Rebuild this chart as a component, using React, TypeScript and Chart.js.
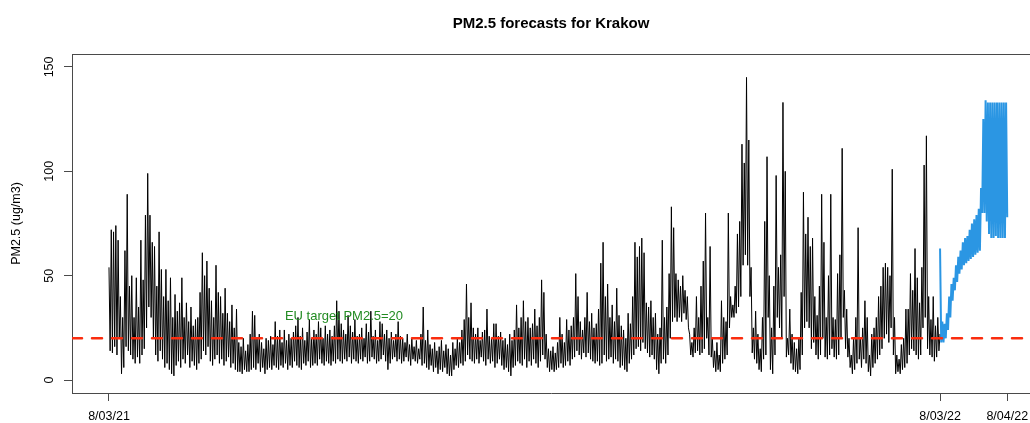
import { useEffect, useRef } from "react";
import { Chart, registerables } from "chart.js";

Chart.register(...registerables);

// ---------------- data ----------------
// Observed PM2.5: daily high and daily low, day 0 = 8/03/21
const observedStartDay = 0;
const observedDailyHigh = [
  54, 72, 71, 74, 67, 40, 30, 62, 89, 45,
  50, 30, 49, 35, 67, 48, 79, 99, 79, 66,
  64, 45, 71, 53, 40, 53, 38, 49, 30, 41,
  33, 37, 49, 30, 37, 28, 35, 26, 29, 30,
  42, 61, 50, 57, 44, 38, 30, 55, 42, 40,
  32, 44, 32, 28, 36, 25, 34, 18, 16, 20,
  14, 17, 22, 33, 31, 20, 22, 18, 15, 20,
  19, 21, 17, 28, 21, 24, 18, 24, 19, 22,
  20, 23, 26, 30, 21, 25, 19, 23, 29, 20,
  24, 22, 28, 25, 20, 26, 22, 24, 21, 26,
  38, 33, 27, 24, 22, 31, 26, 23, 29, 21,
  22, 25, 20, 27, 23, 33, 21, 24, 19, 28,
  27, 22, 24, 20, 23, 19, 22, 28, 21, 20,
  18, 22, 17, 20, 16, 19, 15, 22, 35, 19,
  24, 17, 15, 18, 14, 16, 19, 14, 17, 15,
  12, 18, 15, 20, 18, 24, 29, 46, 30, 37,
  25, 22, 25, 19, 23, 24, 34, 21, 20, 27,
  27, 21, 23, 19, 20, 17, 22, 19, 24, 36,
  25, 30, 38, 28, 30, 25, 27, 34, 26, 30,
  48, 42, 22, 15, 14, 16, 13, 18, 30, 22,
  18, 29, 24, 26, 30, 51, 40, 28, 24, 30,
  42, 28, 32, 25, 27, 34, 56, 66, 40, 46,
  30, 36, 28, 44, 31, 26, 24, 20, 32, 27,
  40, 66, 59, 64, 68, 61, 37, 35, 38, 30,
  32, 22, 25, 67, 30, 35, 51, 83, 73, 51,
  48, 45, 50, 43, 40, 22, 18, 25, 40, 30,
  45, 57, 80, 30, 64, 20, 14, 18, 12, 38,
  30, 28, 80, 40, 36, 45, 70, 76, 113, 104,
  145, 115, 54, 25, 33, 22, 15, 30, 76, 107,
  50, 25, 45, 98, 54, 60, 133, 100, 20, 34,
  22, 18, 15, 20, 42, 90, 70, 78, 64, 68,
  40, 31, 45, 89, 66, 30, 50, 89, 30, 29,
  51, 60, 111, 43, 34, 20, 12, 20, 30, 73,
  20, 25, 38, 30, 12, 22, 25, 30, 40, 45,
  54, 56, 54, 50, 101, 30, 12, 10, 17, 20,
  34, 34, 51, 43, 63, 49, 37, 54, 103, 117,
  40, 29, 40, 26, 30, 22,
];
const observedDailyLow = [
  14, 13, 16, 12, 20, 3, 6, 16, 14, 12,
  10, 8, 11, 8, 12, 15, 25, 35, 30, 20,
  12, 9, 14, 10, 6, 8, 5, 3, 2, 7,
  9, 6, 10, 8, 12, 6, 9, 7, 5, 8,
  10, 14, 12, 16, 9, 7, 10, 12, 8, 10,
  7, 9, 11, 6, 8, 5, 4, 4, 3, 5,
  4, 4, 5, 6, 5, 8, 4, 6, 3, 5,
  6, 5, 7, 6, 5, 7, 6, 8, 5, 7,
  6, 9, 7, 6, 5, 8, 7, 9, 6, 7,
  8, 7, 10, 8, 7, 9, 8, 7, 9, 8,
  10, 9, 8, 10, 9, 11, 8, 10, 9, 8,
  10, 9, 11, 8, 9, 11, 10, 8, 9, 10,
  12, 9, 5, 8, 10, 11, 9, 10, 8, 9,
  11, 9, 7, 10, 9, 8, 10, 7, 8, 6,
  5, 7, 4, 6, 3, 5, 4, 6, 3, 2,
  2, 5, 7, 6, 8, 7, 9, 12, 10, 9,
  8, 10, 8, 11, 9, 7, 10, 8, 9, 6,
  8, 10, 7, 5, 6, 4, 2, 6, 7, 9,
  8, 7, 10, 6, 9, 7, 10, 8, 6, 9,
  12, 10, 6, 4, 5, 4, 5, 6, 8, 6,
  7, 9, 7, 10, 11, 14, 12, 10, 13, 11,
  13, 10, 9, 8, 9, 7, 8, 12, 9, 10,
  11, 8, 10, 9, 6, 7, 5, 4, 8, 10,
  12, 15, 16, 14, 18, 15, 13, 11, 12, 10,
  5, 3, 8, 10, 8, 12, 20, 28, 30, 28,
  30, 28, 32, 29, 25, 12, 11, 13, 14, 12,
  13, 15, 20, 12, 11, 6, 4, 5, 4, 8,
  10, 12, 25, 30, 30, 32, 35, 40, 55, 60,
  55, 40, 13, 10, 8, 5, 4, 10, 12, 30,
  5, 3, 12, 30, 25, 20, 40, 11, 12, 8,
  5, 4, 3, 5, 12, 25, 28, 25, 15, 18,
  12, 10, 12, 20, 11, 10, 12, 15, 11, 10,
  12, 20, 30, 15, 11, 6, 3, 5, 8, 10,
  6, 10, 8, 4, 2, 6, 8, 10, 12, 15,
  20, 22, 18, 25, 12, 3, 4, 3, 5, 6,
  8, 12, 15, 14, 12, 10, 12, 25, 30, 15,
  12, 11, 9, 11, 14, 20,
];

// Forecast PM2.5: daily high and daily low, starting 8/03/22 (day 365)
const forecastStartDay = 365;
const forecastDailyHigh = [
  63, 28, 27, 32, 40, 46, 49, 55, 59, 62,
  66, 68, 69, 72, 75, 77, 79, 82, 92, 125,
  134, 133, 133, 133, 133, 133, 133, 133, 133, 133,
];
const forecastDailyLow = [
  18, 18, 20, 24, 30, 38, 43, 47, 51, 53,
  55, 56, 57, 58, 59, 60, 61, 62, 80, 80,
  76, 70, 68, 68, 69, 68, 68, 68, 68, 78,
];

const targetPM25 = 20;
const targetLabel = "EU target PM2.5=20";
const targetLabelDay = 103.2;
const targetLabelValue = 30.7;

const xTickDays = [0, 365, 394.5];
const xTickLabels = ["8/03/21", "8/03/22", "8/04/22"];
const yTickValues = [0, 50, 100, 150];

const titleText = "PM2.5 forecasts for Krakow";
const yTitleText = "PM2.5 (ug/m3)";

// axis ranges
const xMin = -16.25;
const xMax = 404.5;
const yMin = -6.2;
const yMax = 156.2;

// ---------------- styles ----------------
const FONT = '"Liberation Sans", Arial, Helvetica, sans-serif';
const AXIS_COLOR = "#4a4a4a";
const OBS_COLOR = "#000000";
const FC_COLOR = "#2b96e3";
const TARGET_COLOR = "#fa2d0f";
const LABEL_COLOR = "#228B22";

function highLowSeries(start: number, highs: number[], lows: number[]) {
  const pts: { x: number; y: number }[] = [];
  highs.forEach((h, i) => {
    pts.push({ x: start + i, y: h });
    pts.push({ x: start + i + 0.5, y: lows[i] });
  });
  return pts;
}

export default function App() {
  const canvasRef = useRef<HTMLCanvasElement | null>(null);

  useEffect(() => {
    const canvas = canvasRef.current;
    if (!canvas) return;

    const observed = highLowSeries(observedStartDay, observedDailyHigh, observedDailyLow);
    const forecast = highLowSeries(forecastStartDay, forecastDailyHigh, forecastDailyLow);
    const target = [
      { x: xMin, y: targetPM25 },
      { x: xMax, y: targetPM25 },
    ];

    const boxAndLabel = {
      id: "boxAndLabel",
      afterDatasetsDraw(chart: any) {
        const { ctx, chartArea, scales } = chart;
        ctx.save();
        ctx.strokeStyle = AXIS_COLOR;
        ctx.lineWidth = 1;
        const ty = Math.round(chartArea.top) + 0.5;
        ctx.beginPath();
        ctx.moveTo(chartArea.left, ty);
        ctx.lineTo(chartArea.right, ty);
        ctx.stroke();
        ctx.fillStyle = LABEL_COLOR;
        ctx.font = `13px ${FONT}`;
        ctx.textAlign = "center";
        ctx.textBaseline = "middle";
        ctx.fillText(
          targetLabel,
          scales.x.getPixelForValue(targetLabelDay),
          scales.y.getPixelForValue(targetLabelValue)
        );
        ctx.restore();
      },
    };

    const chart = new Chart(canvas, {
      type: "line",
      data: {
        datasets: [
          {
            data: target,
            borderColor: TARGET_COLOR,
            borderWidth: 2.5,
            borderDash: [10, 10],
            borderCapStyle: "round",
            pointRadius: 0,
            order: 0,
          },
          {
            data: forecast,
            borderColor: FC_COLOR,
            borderWidth: 2,
            pointRadius: 0,
            tension: 0,
            order: 1,
          },
          {
            data: observed,
            borderColor: OBS_COLOR,
            borderWidth: 1,
            pointRadius: 0,
            tension: 0,
            order: 2,
          },
        ],
      },
      options: {
        animation: false,
        responsive: false,
        devicePixelRatio: 1,
        layout: { padding: 0 },
        plugins: {
          legend: { display: false },
          tooltip: { enabled: false },
          title: {
            display: true,
            text: titleText,
            fullSize: false,
            color: "#000",
            font: { family: FONT, size: 15, weight: "bold" },
            padding: { top: 15, bottom: 21 },
          },
        },
        scales: {
          x: {
            type: "linear",
            min: xMin,
            max: xMax,
            afterBuildTicks: (scale: any) => {
              scale.ticks = xTickDays.map((v) => ({ value: v }));
            },
            afterFit: (scale: any) => {
              scale.height = 30;
              scale.paddingLeft = 0;
              scale.paddingRight = 0;
            },
            ticks: {
              autoSkip: false,
              maxRotation: 0,
              minRotation: 0,
              padding: 8.5,
              color: "#000",
              font: { family: FONT, size: 12.5 },
              callback: (value: any) => {
                const i = xTickDays.indexOf(Number(value));
                return i >= 0 ? xTickLabels[i] : "";
              },
            },
            grid: {
              drawOnChartArea: false,
              drawTicks: true,
              tickLength: 8,
              tickColor: AXIS_COLOR,
            },
            border: { display: true, color: AXIS_COLOR, width: 1 },
          },
          y: {
            type: "linear",
            min: yMin,
            max: yMax,
            afterBuildTicks: (scale: any) => {
              scale.ticks = yTickValues.map((v) => ({ value: v }));
            },
            afterFit: (scale: any) => {
              scale.width = 72;
              scale.paddingTop = 0;
              scale.paddingBottom = 0;
            },
            ticks: {
              autoSkip: false,
              minRotation: 90,
              maxRotation: 90,
              crossAlign: "center",
              padding: 4.5,
              color: "#000",
              font: { family: FONT, size: 12.5 },
              callback: (value: any) => String(value),
            },
            grid: {
              drawOnChartArea: false,
              drawTicks: true,
              tickLength: 8,
              tickColor: AXIS_COLOR,
            },
            border: { display: true, color: AXIS_COLOR, width: 1 },
            title: {
              display: true,
              text: yTitleText,
              color: "#000",
              font: { family: FONT, size: 12.5 },
              padding: { top: 9.5, bottom: 0 },
            },
          },
        },
      },
      plugins: [boxAndLabel],
    } as any);

    return () => chart.destroy();
  }, []);

  return (
    <div style={{ position: "fixed", left: 0, top: 0, width: 1030, height: 423, background: "#fff" }}>
      <canvas ref={canvasRef} width={1030} height={423} style={{ display: "block", width: 1030, height: 423 }} />
    </div>
  );
}
